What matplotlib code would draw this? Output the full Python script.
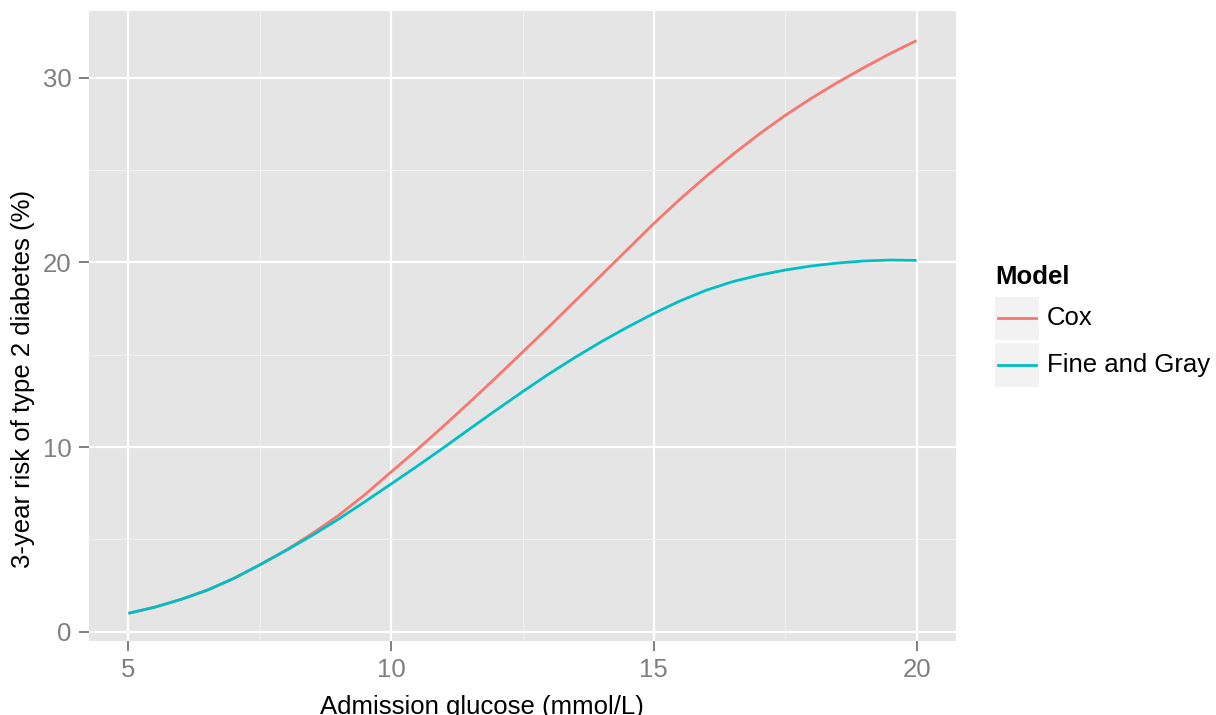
import numpy as np
import matplotlib
matplotlib.use('Agg')
import matplotlib.pyplot as plt
from matplotlib.patches import Rectangle
from matplotlib.lines import Line2D

plt.rcParams['font.family'] = ['Liberation Sans', 'DejaVu Sans']

# values
glucose = [5, 5.5, 6, 6.5, 7, 7.5, 8, 8.5, 9, 9.5, 10, 10.5, 11, 11.5, 12, 12.5,
           13, 13.5, 14, 14.5, 15, 15.5, 16, 16.5, 17, 17.5, 18, 18.5, 19, 19.5, 20]
risk_cox = [1.0, 1.33, 1.75, 2.25, 2.88, 3.62, 4.42, 5.32, 6.3, 7.42, 8.65, 9.87,
            11.14, 12.44, 13.77, 15.13, 16.5, 17.9, 19.3, 20.7, 22.1, 23.42, 24.66,
            25.83, 26.93, 27.95, 28.88, 29.74, 30.54, 31.3, 32.0]
risk_fg = [1.0, 1.33, 1.75, 2.25, 2.88, 3.62, 4.4, 5.22, 6.1, 7.04, 8.0, 8.97,
           9.97, 10.99, 12.0, 12.99, 13.95, 14.85, 15.7, 16.49, 17.23, 17.91, 18.49,
           18.95, 19.3, 19.58, 19.8, 19.96, 20.07, 20.12, 20.1]
models = ['Cox', 'Fine and Gray']
colors = ['#F8766D', '#00BFC4']

W, H = 1216, 715
fig = plt.figure(figsize=(W / 100, H / 100), dpi=100)
ax = fig.add_axes([89 / W, 1 - 641 / H, (956 - 89) / W, (641 - 11) / H])
ax.set_facecolor('#E5E5E5')

for y, name, c in zip([risk_cox, risk_fg], models, colors):
    ax.plot(glucose, y, color=c, lw=2.0, label=name, zorder=3,
            solid_joinstyle='round', solid_capstyle='butt')

ax.set_xlim(4.25, 20.75)
ax.set_ylim(-0.5, 33.6)
ax.set_xticks([5, 10, 15, 20])
ax.set_yticks([0, 10, 20, 30])
ax.set_xticks([7.5, 12.5, 17.5], minor=True)
ax.set_yticks([5, 15, 25], minor=True)
ax.grid(which='major', color='white', lw=1.6)
ax.grid(which='minor', color='#F2F2F2', lw=0.8)
ax.set_axisbelow(True)
for s in ax.spines.values():
    s.set_visible(False)
ax.tick_params(which='major', length=7.5, width=1.4, color='#7F7F7F',
               labelcolor='#7F7F7F', labelsize=18.5, pad=5)
ax.tick_params(which='minor', length=0)

# axis titles
fig.text(481.7 / W, 1 - 714.4 / H, 'Admission glucose (mmol/L)', ha='center',
         va='baseline', fontsize=18.5)
fig.text(23 / W, 1 - 379.3 / H, '3-year risk of type 2 diabetes (%)', ha='center',
         va='center', rotation=90, fontsize=18.5)

# legend (ggplot style with grey key boxes)
fig.text(995 / W, 1 - 284.3 / H, 'Model', ha='left', va='baseline',
         fontsize=18.5, fontweight='bold')
for i, (name, c) in enumerate(zip(models, colors)):
    top = 296.7 + i * 46.6
    fig.add_artist(Rectangle((995 / W, 1 - (top + 43.3) / H), 44 / W, 43.3 / H,
                             transform=fig.transFigure, facecolor='#F2F2F2',
                             edgecolor='none'))
    yc = 1 - (top + 21.7) / H
    fig.add_artist(Line2D([998 / W, 1036 / W], [yc, yc], transform=fig.transFigure,
                          color=c, lw=2.0))
    fig.text(1046.7 / W, yc, name, ha='left', va='center', fontsize=18.5)

fig.savefig('out.png', dpi=100)
